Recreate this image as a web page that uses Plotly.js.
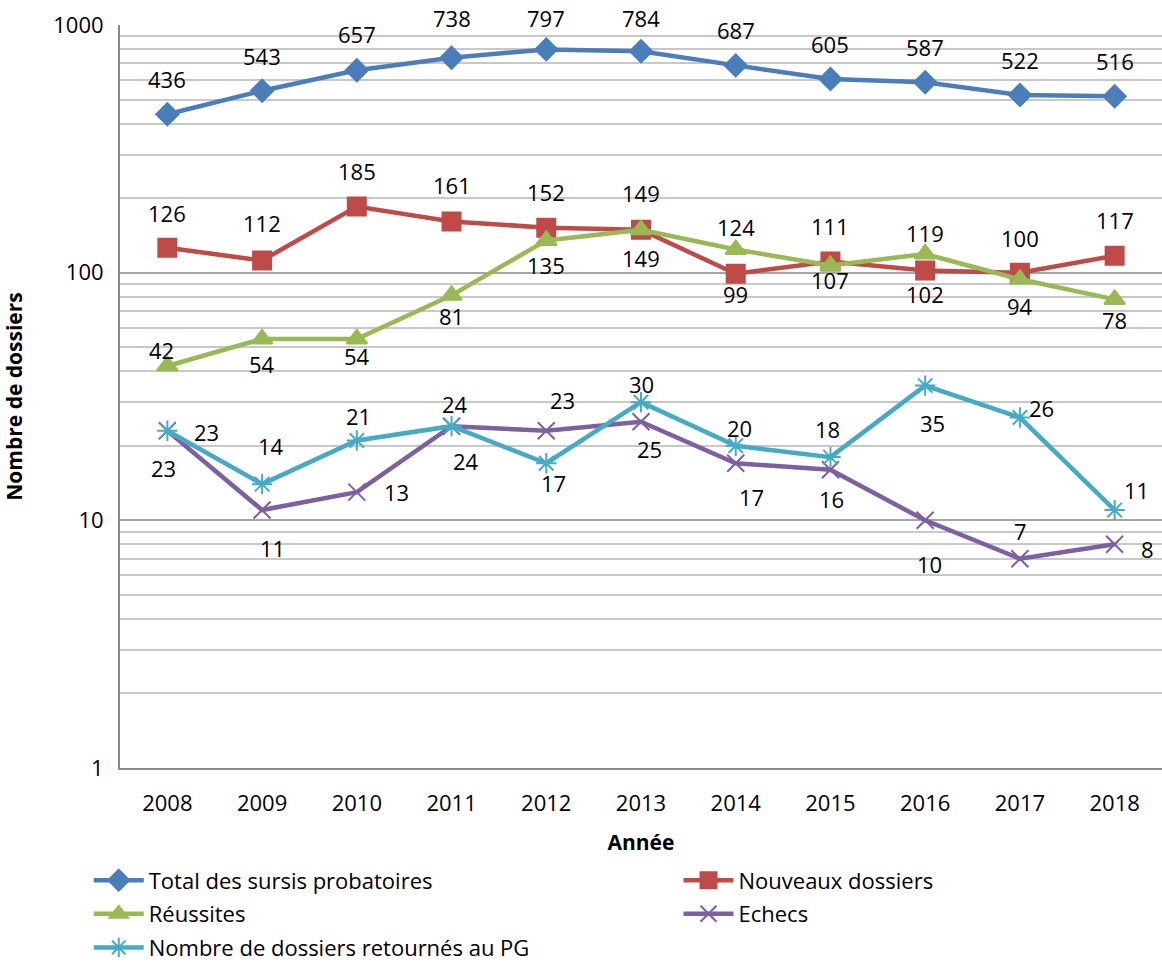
<!DOCTYPE html>
<html><head><meta charset="utf-8">
<script src="https://cdn.plot.ly/plotly-3.0.1.min.js"></script>
<style>body{margin:0;background:#fff}#chart{width:1162px;height:965px}</style>
</head><body><div id="chart"></div>
<script>
const years = ['2008','2009','2010','2011','2012','2013','2014','2015','2016','2017','2018'];
const total = [436,543,657,738,797,784,687,605,587,522,516];
const nouveaux = [126,112,185,161,152,149,99,111,102,100,117];
const reussites = [42,54,54,81,135,149,124,107,119,94,78];
const echecs = [23,11,13,24,23,25,17,16,10,7,8];
const retournes = [23,14,21,24,17,30,20,18,35,26,11];
const seriesNames = ['Total des sursis probatoires','Nouveaux dossiers','Réussites','Echecs','Nombre de dossiers retournés au PG'];

// data-label offsets from the marker, in pixels [dx, dy] (dy > 0 = above)
const offTotal = [[0,35],[0,35],[0,36],[0,40],[0,31],[0,33],[0,35],[0,35],[0,35],[0,35],[0,35]];
const offNouveaux = [[0,35],[0,37],[0,36],[0,36],[0,36],[0,37],[0,-20],[0,35],[0,-23],[0,35],[0,36]];
const offReussites = [[-6,16],[0,-25],[0,-17],[0,-21],[0,-25],[0,-28],[0,23],[0,-15],[0,21],[0,-27],[0,-21]];
const offEchecs = [[-4,-37],[10,-38],[40,0],[14,-35],[16,31],[8,-27],[16,-34],[1,-29],[4,-44],[1,28],[33,-5]];
const offRetournes = [[39,-1],[9,38],[2,25],[3,22],[7,-20],[0,18],[4,18],[-3,28],[7,-37],[22,10],[22,20]];

const colors = ['#4A7EBB','#BE4B48','#98B954','#7D60A0','#46AAC5'];
const symbols = ['diamond','square','triangle-up','x-thin-open','asterisk-open'];
const msize = [17,18,18,17,17];
const data = [total,nouveaux,reussites,echecs,retournes];
const offs = [offTotal,offNouveaux,offReussites,offEchecs,offRetournes];
const legendOf = ['legend','legend2','legend','legend2','legend'];

const traces = data.map((d,i)=>({
  x: years, y: d, type:'scatter', mode:'lines+markers', name: seriesNames[i],
  legend: legendOf[i], legendgroup: 'g'+i,
  line:{color:colors[i], width:4.5},
  marker:{symbol:symbols[i], size:msize[i], color:colors[i], line:{color:colors[i], width:2}}
}));

const FONT = 'Open Sans, Noto Sans, sans-serif';
const annotations = [];
data.forEach((d,i)=>{
  d.forEach((v,j)=>{
    const s = offs[i][j];
    annotations.push({xref:'x', yref:'y', x: j, y: Math.log10(v), text: String(v), showarrow:false,
      xshift:s[0], yshift:s[1], font:{family:FONT, size:22, color:'#000'}});
  });
});

const majorVals = [1,10,100,1000];
const minorVals = [];
[1,10,100].forEach(dec=>{ for(let k=2;k<10;k++) minorVals.push(dec*k); });

const legendBase = {orientation:'v', y:-0.123, yanchor:'top', font:{family:FONT, size:22, color:'#000'},
  itemwidth:50, traceorder:'grouped', tracegroupgap:2, bgcolor:'rgba(0,0,0,0)'};

const layout = {
  width:1162, height:965,
  margin:{l:120, r:0, t:25, b:197, autoexpand:false},
  paper_bgcolor:'#fff', plot_bgcolor:'#fff',
  font:{family:FONT, size:22, color:'#000'},
  showlegend:true,
  xaxis:{type:'category', range:[-0.5,10.5], showgrid:false, showline:true, linecolor:'#8a8a8a', linewidth:2,
    ticks:'outside', ticklen:15, tickcolor:'rgba(0,0,0,0)', tickfont:{size:22},
    title:{text:'<b>Année</b>', font:{size:21}, standoff:19}, zeroline:false},
  yaxis:{type:'log', range:[0,3], tickvals:majorVals, ticktext:['1','10','100','1000'], showgrid:true,
    gridcolor:'#a6a6a6', gridwidth:2,
    minor:{tickvals:minorVals, showgrid:true, gridcolor:'#c8c8c8', gridwidth:2, ticks:''},
    showline:true, linecolor:'#8a8a8a', linewidth:2, ticks:'outside', ticklen:10, tickcolor:'rgba(0,0,0,0)',
    tickfont:{size:22}, title:{text:'<b>Nombre de dossiers</b>', font:{size:21}, standoff:36}, zeroline:false},
  legend: Object.assign({}, legendBase, {x:-0.03, xanchor:'left'}),
  legend2: Object.assign({}, legendBase, {x:0.536, xanchor:'left'}),
  annotations: annotations
};
Plotly.newPlot('chart', traces, layout, {displayModeBar:false});
</script></body></html>
